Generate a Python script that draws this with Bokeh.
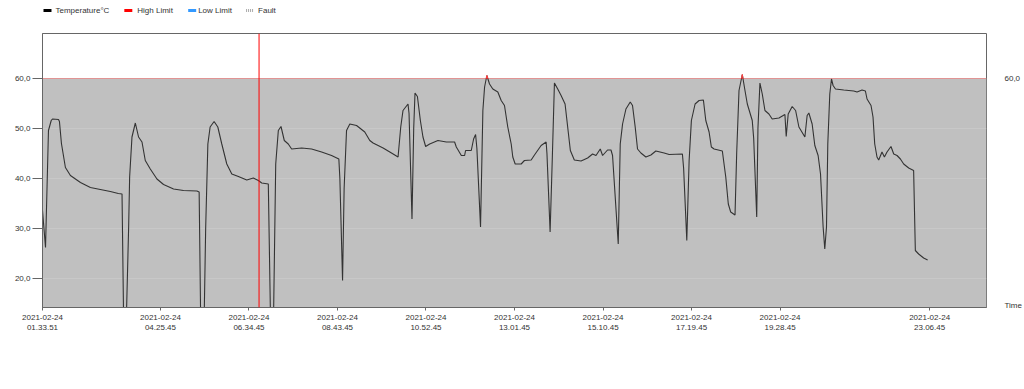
import numpy as np
import pandas as pd
from bokeh.plotting import figure
from bokeh.layouts import column
from bokeh.core.properties import value
from bokeh.models import (ColumnDataSource, FixedTicker, CustomJSTickFormatter, LinearAxis,
                          Span, BoxAnnotation, Range1d)
from bokeh.embed import file_html
from bokeh.resources import INLINE

# ---------------- data ----------------
start_time = "2021-02-24 01:33:51"
end_time = "2021-02-25 00:29:39"

minutes = [0, 4.4, 8.7, 12.7, 14.5, 23.3, 24.7, 27.6, 33.4, 40.7, 55.3, 69.8, 84.3, 98.9, 110.5,
           115.9, 118.2, 122.2, 125.5, 127, 130.4, 135.3, 140, 145, 149.8, 157.1, 166.8, 176.4,
           191, 205.5, 225, 228.3, 230.5, 235.6, 237.8, 241, 244.3, 250.1, 255.5, 261.3, 268.6,
           275.9, 285.5, 297.7, 307.3, 314.6, 319.5, 329.1, 332.3, 336.7, 339.9, 343.7, 347.6,
           352.4, 358.2, 363.1, 377.7, 392.2, 406.8, 421.3, 431.9, 433.4, 437.3, 439.6, 443.1,
           447.9, 457.7, 469.7, 477, 481.8, 496.4, 508.6, 518.2, 522.1, 525.4, 532.7, 534.2,
           538.5, 541, 542.9, 546.4, 550.7, 554.5, 558.4, 564.3, 576.3, 588.6, 600.6, 603.1,
           610.4, 615.2, 616.6, 624.9, 628.3, 631.2, 633.1, 638.4, 641.8, 644.3, 647.6, 651.5,
           656.3, 663.6, 668.5, 673.3, 678.1, 683.1, 685.4, 688.9, 697.6, 702.4, 712.2, 717,
           726.7, 734, 735.2, 739.8, 743.2, 746.1, 750.9, 755.8, 761.6, 765.4, 769.3, 775.1,
           784.9, 794.5, 801.7, 806.7, 812.9, 816.3, 823.5, 828.5, 830.8, 839.1, 842, 845.4,
           850.3, 856.6, 859.9, 863.8, 867.2, 872.1, 879.4, 886.7, 893.9, 906, 913.3, 932.6,
           934.4, 939, 942.4, 945.7, 951.1, 956.9, 963.2, 966.7, 971.5, 974.8, 978.8, 990.8,
           995.8, 999.5, 1003, 1009.3, 1011.7, 1015.1, 1019.9, 1023.8, 1027.2, 1034.4, 1036.5,
           1040.9, 1042.7, 1045.6, 1049, 1052.9, 1058.7, 1063.5, 1073.3, 1082, 1083.9, 1086.8,
           1092.6, 1097.6, 1102.4, 1111.1, 1114.4, 1116.9, 1121.7, 1125.6, 1130.4, 1133.9,
           1137.7, 1140.1, 1142.6, 1144.5, 1147.4, 1149.9, 1152.2, 1155.7, 1167.8, 1182.3,
           1187.1, 1194.4, 1199.3, 1201.7, 1207.5, 1210.4, 1212.9, 1216.2, 1218.7, 1223.5,
           1227, 1230.8, 1236.6, 1240.6, 1245.4, 1250.3, 1255.1, 1262.4, 1269.6, 1272.1,
           1276.9, 1284.2, 1290]

temperature = [33.6, 26.2, 49.6, 51.6, 51.9, 51.8, 51.4, 47, 42.2, 40.6, 39.2, 38.2, 37.8, 37.4, 37.0,
               36.9, 12, 12, 30, 40.3, 48.3, 51.1, 48.3, 47.3, 43.6, 41.9, 39.9, 38.8,
               37.9, 37.6, 37.5, 37.3, 12, 12, 30, 46.9, 50.3, 51.4, 50.3, 46.9, 42.9,
               40.9, 40.4, 39.7, 40.1, 39.6, 39.1, 38.9, 12, 12, 42.9, 49.6, 50.4,
               47.6, 46.9, 45.9, 46.1, 45.9, 45.3, 44.6, 43.9, 40, 19.6, 38, 49.6,
               50.9, 50.6, 49.3, 47.6, 47.1, 46.1, 45.1, 44.3, 50.3, 53.6, 54.9, 53,
               31.9, 50, 57.1, 56.4, 51.6, 48.3, 46.4, 46.9, 47.6, 47.3, 47.3, 46.3,
               44.6, 44.6, 45.6, 45.6, 47.9, 48.8, 46, 30.3, 53.6, 58.3, 60.6, 58.9,
               57.9, 57.3, 55.6, 54.6, 50.3, 46.9, 44.3, 42.9, 42.9, 43.6, 43.7, 44.7,
               46.6, 47.3, 45, 29.3, 45, 59.1, 57.9, 56.6, 54.9, 50.3, 45.6, 43.7,
               43.5, 44.1, 44.9, 44.6, 45.9, 44.6, 45.7, 45.7, 44.6, 26.9, 46.9, 50.9,
               53.9, 55.3, 54.6, 50.3, 45.9, 45.1, 44.3, 44.7, 45.5, 45.1, 44.8, 44.9,
               42, 27.6, 43.6, 51.6, 54.9, 55.6, 55.7, 51.6, 49.3, 46.3, 45.9, 45.5,
               40.3, 34.9, 33.3, 32.7, 45, 57.6, 60.8, 57.6, 54.9, 51.6, 48,
               32.3, 50, 59.1, 56.9, 53.6, 52.9, 51.9, 52.1, 52.8, 48.4, 52.9,
               54.4, 53.6, 50.3, 48.3, 52.6, 53.1, 50.9, 46.6, 44.6, 40.9,
               30.3, 25.9, 30.3, 46.9, 56.9, 59.9, 58.6, 57.9, 57.7, 57.5,
               57.3, 57.7, 57.5, 55.9, 54.6, 52.3, 46.9, 44.3, 43.7, 45.3,
               44.3, 45.3, 46.4, 44.9, 44.6, 43.9, 42.9, 42.1, 41.6, 25.6,
               24.9, 24.1, 23.7]

tick_times = ["2021-02-24 01:33:51", "2021-02-24 04:25:45", "2021-02-24 06:34:45",
              "2021-02-24 08:43:45", "2021-02-24 10:52:45", "2021-02-24 13:01:45",
              "2021-02-24 15:10:45", "2021-02-24 17:19:45", "2021-02-24 19:28:45",
              "2021-02-24 23:06:45"]
y_ticks = [20, 30, 40, 50, 60]
high_limit = 60.0
cursor_time = "2021-02-24 06:49:27"
legend_labels = ["Temperature°C", "High Limit", "Low Limit", "Fault"]
legend_colors = ["#000000", "#ff0000", "#3399ff", "#aaaaaa"]

# ---------------- helpers ----------------
start = pd.Timestamp(start_time)
epoch = pd.Timestamp("1970-01-01")


def to_ms(ts):
    return (pd.Timestamp(ts) - epoch) / pd.Timedelta(milliseconds=1)


times = [start + pd.Timedelta(minutes=m) for m in minutes]

# segments above the high limit (drawn red)
seg_xs, seg_ys = [], []
for i in range(len(minutes) - 1):
    a, b = temperature[i], temperature[i + 1]
    ma, mb = minutes[i], minutes[i + 1]
    if a <= high_limit and b <= high_limit:
        continue
    xs, ys = [], []
    f = (high_limit - a) / (b - a) if b != a else 0
    if a > high_limit:
        xs.append(ma); ys.append(a)
    else:
        xs.append(ma + f * (mb - ma)); ys.append(high_limit)
    if b > high_limit:
        xs.append(mb); ys.append(b)
    else:
        xs.append(ma + f * (mb - ma)); ys.append(high_limit)
    seg_xs.append([start + pd.Timedelta(minutes=x) for x in xs])
    seg_ys.append(ys)

FONT = "Liberation Sans"
TXT = "#333333"

# ---------------- legend strip (pixel-space figure, frame aligned with chart: 42..988) ----------------
lf = figure(width=1024, height=33, output_backend="svg", toolbar_location=None,
            x_range=Range1d(42, 988), y_range=Range1d(33, 0),
            min_border=0, min_border_left=42, min_border_right=36, min_border_top=0, min_border_bottom=0,
            x_axis_location=None, y_axis_location=None)
lf.outline_line_color = None
lf.grid.grid_line_color = None
lf.background_fill_color = "white"
lf.border_fill_color = "white"
swatch_x = [43, 124, 188, 246]
text_x = [55, 137, 198, 258]
leg_y = 10
for lab, col, sx, tx in zip(legend_labels, legend_colors, swatch_x, text_x):
    dash = "1 1" if lab == "Fault" else "solid"
    lf.segment(x0=[sx], y0=[leg_y], x1=[sx + 8], y1=[leg_y], line_color=col, line_width=3, line_dash=dash)
    lf.text(x=[tx], y=[leg_y], text=[lab], text_font=value(FONT), text_font_size="8px",
            text_color=TXT, text_baseline="middle", text_align="left")

# ---------------- main chart ----------------
p = figure(width=1024, height=356, output_backend="svg", toolbar_location=None,
           x_axis_type="datetime",
           x_range=Range1d(start, pd.Timestamp(end_time)),
           y_range=Range1d(14.2, 69),
           min_border_left=42, min_border_right=36, min_border_top=0, min_border_bottom=82)
p.background_fill_color = "white"
p.border_fill_color = "white"
p.outline_line_color = "#666666"
p.outline_line_width = 1

box = BoxAnnotation(top=high_limit, fill_color="#c0c0c0", fill_alpha=1.0, line_color=None, level="image")
p.add_layout(box)

p.xgrid.grid_line_color = None
p.ygrid.ticker = FixedTicker(ticks=y_ticks)
p.ygrid.grid_line_color = "#cdcdcd"
p.ygrid.grid_line_alpha = 0.6

p.add_layout(Span(location=high_limit, dimension="width", line_color="#ff0000", line_alpha=0.3, line_width=1))

src = ColumnDataSource(dict(t=times, v=temperature))
p.line("t", "v", source=src, line_color="#333333", line_width=1.1)
p.multi_line(seg_xs, seg_ys, line_color="#ff4040", line_width=1.1)

p.add_layout(Span(location=to_ms(cursor_time), dimension="height", line_color="#ff0000", line_width=1))

xa = p.xaxis[0]
xa.ticker = FixedTicker(ticks=[to_ms(t) for t in tick_times])
xa.formatter = CustomJSTickFormatter(code="""
const d = new Date(tick);
const p = n => String(n).padStart(2, '0');
return d.getUTCFullYear() + '-' + p(d.getUTCMonth() + 1) + '-' + p(d.getUTCDate()) + '\\n' +
       p(d.getUTCHours()) + '.' + p(d.getUTCMinutes()) + '.' + p(d.getUTCSeconds());
""")
xa.major_tick_out = 3
xa.major_tick_in = 0
xa.minor_tick_line_color = None
xa.major_label_standoff = 2
xa.axis_line_color = "#666666"
xa.major_tick_line_color = "#666666"

ya = p.yaxis[0]
ya.ticker = FixedTicker(ticks=y_ticks)
ya.formatter = CustomJSTickFormatter(code="return tick.toFixed(1).replace('.', ',');")
ya.major_tick_out = 10
ya.major_tick_in = 0
ya.minor_tick_line_color = None
ya.major_label_standoff = 2
ya.axis_line_color = "#666666"
ya.major_tick_line_color = "#666666"

ra = LinearAxis(ticker=FixedTicker(ticks=[14.6, high_limit]),
                formatter=CustomJSTickFormatter(code="return tick > 30 ? '60,0' : 'Time';"))
ra.major_tick_line_color = None
ra.minor_tick_line_color = None
ra.axis_line_color = None
ra.major_label_standoff = 12
p.add_layout(ra, "right")

for ax in (xa, ya, ra):
    ax.major_label_text_font = FONT
    ax.major_label_text_font_size = "8px"
    ax.major_label_text_color = TXT

layout = column(lf, p, spacing=0)
open("out.html", "w").write(file_html(layout, INLINE))
